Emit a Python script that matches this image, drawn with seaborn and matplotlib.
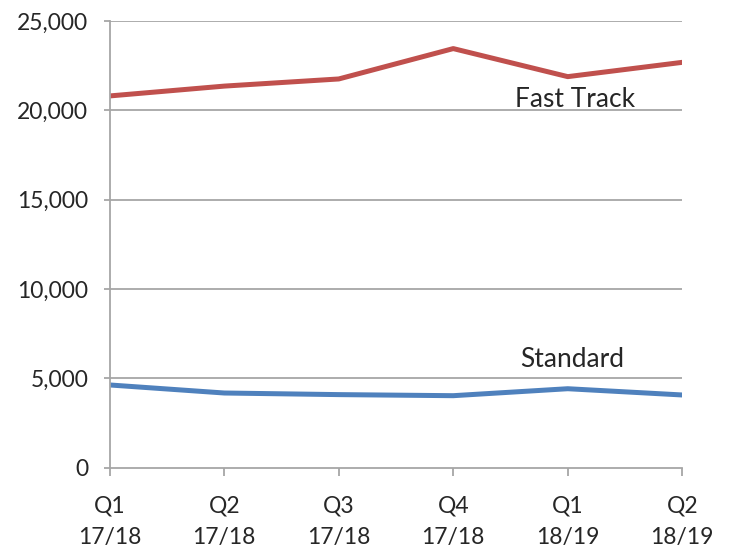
import matplotlib
matplotlib.use('Agg')
import matplotlib.pyplot as plt
import seaborn as sns
import pandas as pd

# quarters and series values
quarters = ['Q1\n17/18', 'Q2\n17/18', 'Q3\n17/18', 'Q4\n17/18', 'Q1\n18/19', 'Q2\n18/19']
fast_track = [20800, 21350, 21750, 23450, 21880, 22680]
standard = [4620, 4170, 4080, 4020, 4410, 4060]
y_ticks = [0, 5000, 10000, 15000, 20000, 25000]

df = pd.DataFrame({
    'pos': list(range(len(quarters))) * 2,
    'value': fast_track + standard,
    'series': ['Fast Track'] * len(quarters) + ['Standard'] * len(quarters),
})

sns.set_style('white')
plt.rcParams['font.family'] = ['Lato', 'DejaVu Sans']

fig = plt.figure(figsize=(7.32, 5.5), dpi=100)
ax = fig.add_axes([0.150, 0.150, 0.782, 0.812])

sns.lineplot(data=df, x='pos', y='value', hue='series',
             palette={'Fast Track': '#C0504D', 'Standard': '#4F81BD'},
             linewidth=3.6, legend=False, ax=ax)

ax.set_xlim(0, len(quarters) - 1)
ax.set_ylim(0, 25000)
ax.set_yticks(y_ticks)
ax.set_yticklabels([f'{v:,}' for v in y_ticks])
ax.set_xticks(range(len(quarters)))
ax.set_xticklabels(quarters, linespacing=1.62)
ax.set_xlabel('')
ax.set_ylabel('')

grey = '#a6a6a6'
for v in y_ticks[1:]:
    ax.axhline(v, color=grey, linewidth=1.3, zorder=0)
for side in ['top', 'right']:
    ax.spines[side].set_visible(False)
for side in ['left', 'bottom']:
    ax.spines[side].set_color(grey)
    ax.spines[side].set_linewidth(1.3)

ax.tick_params(axis='y', left=True, direction='out', length=4.5, width=1.3,
               color=grey, labelsize=16.5, pad=11)
ax.tick_params(axis='x', bottom=True, direction='out', length=6, width=1.3,
               color=grey, labelsize=16.5, pad=14)

ax.text(4.06, 20160, 'Fast Track', fontsize=19, ha='center', va='baseline')
ax.text(4.04, 5640, 'Standard', fontsize=19, ha='center', va='baseline')

plt.savefig('out.png', dpi=100)
plt.close()
